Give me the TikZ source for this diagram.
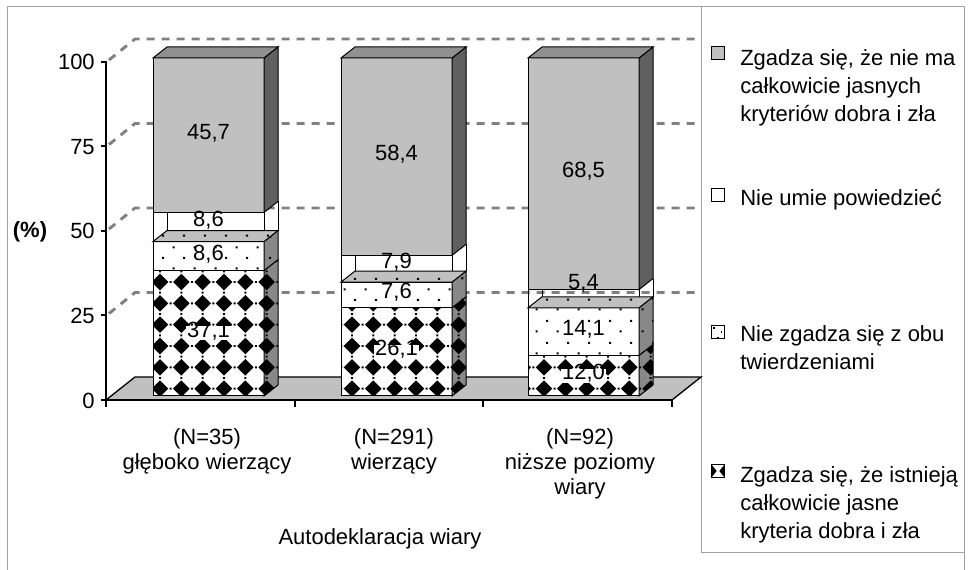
\documentclass[tikz,border=0pt]{standalone}
\usepackage{fontspec}
\setmainfont{Liberation Sans}
\usepackage{tikz}
\usetikzlibrary{patterns}
\definecolor{framegray}{RGB}{160,160,160}
\definecolor{gridgray}{RGB}{128,128,128}
\definecolor{barfront}{RGB}{192,192,192}
\definecolor{bartop}{RGB}{144,144,144}
\definecolor{barside}{RGB}{96,96,96}
\definecolor{patside}{RGB}{136,136,136}

\pgfdeclarepatternformonly{wiaradiamonds}{\pgfpoint{-1pt}{-1pt}}{\pgfpoint{17pt}{17pt}}{\pgfpoint{16pt}{16pt}}{
\pgfpathmoveto{\pgfpoint{8pt}{1.8pt}}
\pgfpathlineto{\pgfpoint{14.2pt}{8pt}}
\pgfpathlineto{\pgfpoint{8pt}{14.2pt}}
\pgfpathlineto{\pgfpoint{1.8pt}{8pt}}
\pgfpathclose
\pgfpathrectangle{\pgfpoint{7.3pt}{-0.7pt}}{\pgfpoint{1.4pt}{1.4pt}}
\pgfpathrectangle{\pgfpoint{-0.7pt}{7.3pt}}{\pgfpoint{1.4pt}{1.4pt}}
\pgfusepath{fill}
}
\pgfdeclarepatternformonly{wiaradots}{\pgfpointorigin}{\pgfpoint{16pt}{16pt}}{\pgfpoint{16pt}{16pt}}{
\pgfpathrectangle{\pgfpoint{2pt}{2pt}}{\pgfpoint{1.6pt}{1.6pt}}
\pgfpathrectangle{\pgfpoint{10pt}{10pt}}{\pgfpoint{1.6pt}{1.6pt}}
\pgfusepath{fill}
}

\tikzset{
wartosc/.style={font=\fontsize{16.5}{20}\selectfont, inner sep=1pt, text height=0.72em, text depth=0.12em},
napis/.style={font=\fontsize{16.5}{20}\selectfont, inner sep=0pt, anchor=base},
krawedz/.style={draw=black, line width=0.75pt},
romb/.style={krawedz, preaction={fill=white}, pattern=wiaradiamonds},
rombbok/.style={krawedz, preaction={fill=patside}, pattern=wiaradiamonds},
kropki/.style={krawedz, preaction={fill=white}, pattern=wiaradots},
kropkibok/.style={krawedz, preaction={fill=patside}, pattern=wiaradots},
kropkigora/.style={krawedz, preaction={fill=barfront}, pattern=wiaradots},
szary/.style={krawedz, fill=barfront},
szarybok/.style={krawedz, fill=barside},
szarygora/.style={krawedz, fill=bartop},
siatka/.style={gridgray, line width=2.2pt, dash pattern=on 6pt off 5.25pt},
os/.style={black, line width=1.5pt},
ramka/.style={framegray, line width=0.75pt},
znacznik/.style={draw=black, line width=0.6pt, minimum size=9.5pt, inner sep=0pt}
}
\newcommand{\liczba}[1]{\pgfmathprintnumber[fixed,fixed zerofill,precision=1,use comma,assume math mode=true]{#1}}

\begin{document}
\begin{tikzpicture}[x=0.75pt,y=-0.75pt]
\useasboundingbox (0,0) rectangle (968,570);
\draw[ramka] (7,570) -- (7,7) -- (964,7) -- (964,570);
\draw[ramka] (701,7) -- (701,552) -- (964,552);

\foreach \v in {25,50,75,100}
  \draw[siatka] (109,{400-3.38*\v-2}) -- (135,{377-3.38*\v}) -- (701,{377-3.38*\v});
\draw[krawedz, line width=1pt, fill=barfront] (106,400) -- (672,400) -- (701,377) -- (135,377) -- cycle;

\draw[os] (106,61.5) -- (106,400) -- (672,400);
\foreach \v in {0,25,50,75,100}{
  \draw[os] (101,{400-3.38*\v}) -- (106,{400-3.38*\v});
  \node[napis, anchor=base east] (y\v) at (95,{400-3.38*\v+8}) {\v};
}
\foreach \i in {0,...,3}
  \draw[os] ({106+188.67*\i},400) -- ({106+188.67*\i},407);
\node[napis, font=\fontsize{16.5}{20}\selectfont\bfseries] (proc) at (30,238) {(\%)};

\foreach \n/\xl/\va/\vb/\vc/\vd/\sh in {1/153/37.1/8.6/8.6/45.7/4, 2/341/26.1/7.6/7.9/58.4/4, 3/528/12.0/14.1/5.4/68.5/13}{
  \pgfmathsetmacro\ya{396-3.38*\va}
  \pgfmathsetmacro\yb{\ya-3.38*\vb}
  \pgfmathsetmacro\yc{\yb-3.38*\vc}
  \pgfmathsetmacro\yd{\yc-3.38*\vd}
  \pgfmathsetmacro\xr{\xl+111}
  \draw[krawedz] (\xl,\yb) -- (\xl,\yc) (\xr,\yb) -- (\xr,\yc)
    (\xl+14,\yb-11) -- (\xl+14,\yc-11) (\xr+14,\yb-11) -- (\xr+14,\yc-11);
  \draw[romb] (\xl,396) rectangle (\xr,\ya);
  \draw[rombbok] (\xr,396) -- (\xr+14,385) -- (\xr+14,\ya-11) -- (\xr,\ya) -- cycle;
  \draw[kropki] (\xl,\ya) rectangle (\xr,\yb);
  \draw[kropkibok] (\xr,\ya) -- (\xr+14,\ya-11) -- (\xr+14,\yb-11) -- (\xr,\yb) -- cycle;
  \draw[kropkigora] (\xl,\yb) -- (\xr,\yb) -- (\xr+14,\yb-11) -- (\xl+14,\yb-11) -- cycle;
  \draw[szary] (\xl,\yc) rectangle (\xr,\yd);
  \draw[szarybok] (\xr,\yc) -- (\xr+14,\yc-11) -- (\xr+14,\yd-11) -- (\xr,\yd) -- cycle;
  \draw[szarygora] (\xl,\yd) -- (\xr,\yd) -- (\xr+14,\yd-11) -- (\xl+14,\yd-11) -- cycle;
  \node[wartosc, fill=white] (a\n) at (\xl+55.5,{(396+\ya)/2}) {\liczba{\va}};
  \node[wartosc, fill=white] (b\n) at (\xl+55.5,{(\ya+\yb)/2}) {\liczba{\vb}};
  \node[wartosc] (c\n) at (\xl+55.5,{(\yb+\yc)/2-\sh}) {\liczba{\vc}};
  \node[wartosc] (d\n) at (\xl+55.5,{(\yc+\yd)/2}) {\liczba{\vd}};
}

\node[napis] (k1a) at (207,444) {(N=35)};
\node[napis] (k1b) at (207,469) {głęboko wierzący};
\node[napis] (k2a) at (394,444) {(N=291)};
\node[napis] (k2b) at (394,469) {wierzący};
\node[napis] (k3a) at (580,444) {(N=92)};
\node[napis] (k3b) at (580,469) {niższe poziomy};
\node[napis] (k3c) at (580,494) {wiary};
\node[napis] (tytul) at (380,544) {Autodeklaracja wiary};

\node[znacznik, fill=barfront] (m1) at (718,53) {};
\node[napis, anchor=base west] (l1a) at (740,66) {Zgadza się, że nie ma};
\node[napis, anchor=base west] (l1b) at (740,94) {całkowicie jasnych};
\node[napis, anchor=base west] (l1c) at (740,122) {kryteriów dobra i zła};
\node[znacznik, fill=white] (m2) at (718,195) {};
\node[napis, anchor=base west] (l2a) at (740,206) {Nie umie powiedzieć};
\node[znacznik, fill=white] (m3) at (718,332) {};
\fill (m3.north west) ++(1.5pt,-1.5pt) rectangle ++(1.3pt,-1.3pt);
\fill (m3.east) ++(-3pt,0.6pt) rectangle ++(1.3pt,-1.3pt);
\fill (m3.south) ++(-0.6pt,1.5pt) rectangle ++(1.3pt,-1.3pt);
\node[napis, anchor=base west] (l3a) at (740,342) {Nie zgadza się z obu};
\node[napis, anchor=base west] (l3b) at (740,370) {twierdzeniami};
\node[znacznik, fill=white] (m4) at (718,471) {};
\fill (m4.north west) -- ([xshift=-1pt]m4.center) -- (m4.south west) -- cycle;
\fill (m4.north east) -- ([xshift=1pt]m4.center) -- (m4.south east) -- cycle;
\node[napis, anchor=base west] (l4a) at (740,482) {Zgadza się, że istnieją};
\node[napis, anchor=base west] (l4b) at (740,510) {całkowicie jasne};
\node[napis, anchor=base west] (l4c) at (740,538) {kryteria dobra i zła};
\end{tikzpicture}
\end{document}
